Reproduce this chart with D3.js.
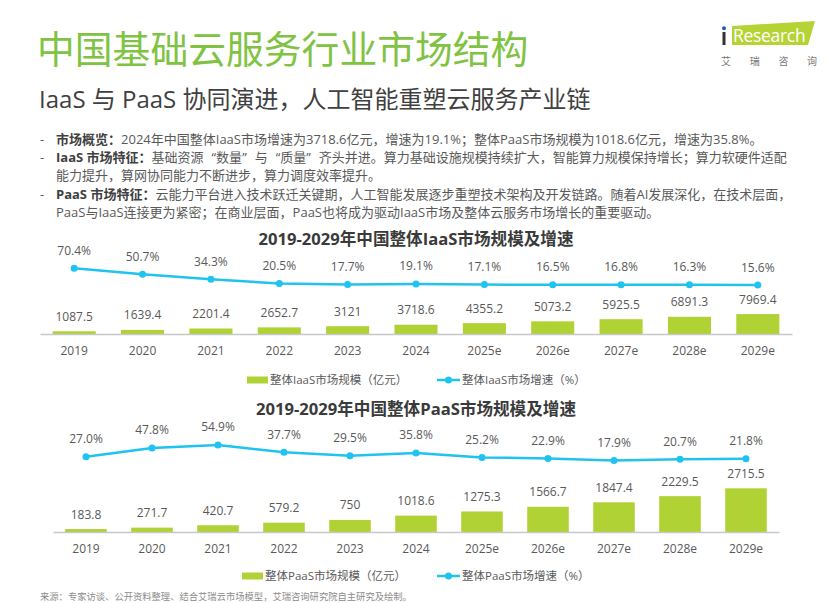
<!DOCTYPE html>
<html>
<head>
<meta charset="utf-8">
<script src="https://cdn.jsdelivr.net/npm/d3@7"></script>
<style>
  body { margin: 0; background: #fff; }
  svg { display: block; }
</style>
</head>
<body>
<svg class="page" width="830" height="603"></svg>
<script>
var years = ["2019", "2020", "2021", "2022", "2023", "2024", "2025e", "2026e", "2027e", "2028e", "2029e"]
var iaasScale = [1087.5, 1639.4, 2201.4, 2652.7, 3121, 3718.6, 4355.2, 5073.2, 5925.5, 6891.3, 7969.4]
var iaasGrowth = [70.4, 50.7, 34.3, 20.5, 17.7, 19.1, 17.1, 16.5, 16.8, 16.3, 15.6]
var paasScale = [183.8, 271.7, 420.7, 579.2, 750, 1018.6, 1275.3, 1566.7, 1847.4, 2229.5, 2715.5]
var paasGrowth = [27.0, 47.8, 54.9, 37.7, 29.5, 35.8, 25.2, 22.9, 17.9, 20.7, 21.8]

var cGreen = "#b1d235"
var cBlue = "#1fc3ef"
var cTitle = "#80c342"
var cText = "#595959"
var cDark = "#404040"
var font = "'Open Sans', 'Noto Sans CJK SC', sans-serif"

var svg = d3.select(".page")

// header
svg.append("text")
	.text("中国基础云服务行业市场结构")
	.attr("x", 37)
	.attr("y", 63)
	.attr("font-family", font)
	.attr("font-size", "37.8px")
	.attr("fill", cTitle)

svg.append("text")
	.text("IaaS 与 PaaS 协同演进，人工智能重塑云服务产业链")
	.attr("x", 39)
	.attr("y", 108)
	.attr("font-family", font)
	.attr("font-size", "24px")
	.attr("fill", cDark)

// logo
svg.append("polygon")
	.attr("points", "732,26 815,21 808,45 732,45")
	.attr("fill", "#b5d334")
svg.append("rect")
	.attr("x", 722.5).attr("y", 32).attr("width", 3).attr("height", 13)
	.attr("fill", "#333")
svg.append("circle")
	.attr("cx", 724).attr("cy", 28.3).attr("r", 2)
	.attr("fill", "#1f5fb4")
svg.append("text")
	.text("Research")
	.attr("x", 733)
	.attr("y", 42)
	.attr("font-family", font)
	.attr("font-size", "17.5px")
	.attr("letter-spacing", "-0.3px")
	.attr("fill", "white")

var logoChars = ["艾", "瑞", "咨", "询"]
svg.selectAll(".logoChar")
	.data(logoChars)
	.enter()
	.append("text")
	.attr("class", "logoChar")
	.text(function(d) {return d;})
	.attr("x", function(d, i) {return 726 + i * 28.7;})
	.attr("y", 65)
	.attr("text-anchor", "middle")
	.attr("font-family", font)
	.attr("font-size", "10px")
	.attr("fill", "#777")

// bullet text
var bullets = [
	{"dash": true,  "bold": "市场概览：", "text": "2024年中国整体IaaS市场增速为3718.6亿元，增速为19.1%；整体PaaS市场规模为1018.6亿元，增速为35.8%。"},
	{"dash": true,  "bold": "IaaS 市场特征：", "text": "基础资源“数量”与“质量”齐头并进。算力基础设施规模持续扩大，智能算力规模保持增长；算力软硬件适配"},
	{"dash": false, "bold": "", "text": "能力提升，算网协同能力不断进步，算力调度效率提升。"},
	{"dash": true,  "bold": "PaaS 市场特征：", "text": "云能力平台进入技术跃迁关键期，人工智能发展逐步重塑技术架构及开发链路。随着AI发展深化，在技术层面，"},
	{"dash": false, "bold": "", "text": "PaaS与IaaS连接更为紧密；在商业层面，PaaS也将成为驱动IaaS市场及整体云服务市场增长的重要驱动。"}
]

bullets.forEach(function(b, i) {
	var y = 143.5 + i * 18.4
	if (b.dash) {
		svg.append("text")
			.text("-")
			.attr("x", 40)
			.attr("y", y)
			.attr("font-family", font)
			.attr("font-size", "13px")
			.attr("fill", cText)
	}
	var t = svg.append("text")
		.attr("x", 56)
		.attr("y", y)
		.attr("font-family", font)
		.attr("font-size", "13px")
		.attr("fill", cText)
	if (b.bold) {
		t.append("tspan").text(b.bold).attr("font-weight", "bold").attr("fill", cDark)
	}
	// curly quotes are set full width, as in the original
	var parts = b.text.split(/([“”])/)
	var gap = 0
	parts.forEach(function(p) {
		if (p === "") return
		var s = t.append("tspan").text(p)
		if (p === "“") {
			s.attr("dx", 8)
		} else if (gap) {
			s.attr("dx", gap)
		}
		gap = (p === "”") ? 8 : 0
	})
})

// combo chart: bars for scale, line for growth
function drawChart(opt) {
	var g = svg.append("g")

	var x = d3.scaleBand()
		.domain(years)
		.range([opt.x0, opt.x1])
		.paddingInner(0.37)
		.paddingOuter(0.185)

	var yBar = d3.scaleLinear()
		.domain([0, opt.barMax])
		.range([opt.axisY, opt.axisY - 100])

	var yLine = d3.scaleLinear()
		.domain([0, 100])
		.range([opt.lineZero, opt.lineZero - opt.lineSpan])

	g.append("text")
		.text(opt.title)
		.attr("x", 416)
		.attr("y", opt.titleY)
		.attr("text-anchor", "middle")
		.attr("font-family", font)
		.attr("font-size", "16.6px")
		.attr("font-weight", "bold")
		.attr("fill", "#3a3a3a")

	g.selectAll(".bar")
		.data(opt.scale)
		.enter()
		.append("rect")
		.attr("class", "bar")
		.attr("x", function(d, i) {return x(years[i]);})
		.attr("y", function(d) {return yBar(d);})
		.attr("width", x.bandwidth())
		.attr("height", function(d) {return yBar(0) - yBar(d);})
		.attr("fill", cGreen)

	g.selectAll(".barLabel")
		.data(opt.scale)
		.enter()
		.append("text")
		.attr("class", "barLabel")
		.text(function(d) {return d;})
		.attr("x", function(d, i) {return x(years[i]) + x.bandwidth() / 2;})
		.attr("y", function(d) {return yBar(d) - 10.5;})
		.attr("text-anchor", "middle")
		.attr("font-family", font)
		.attr("font-size", "12px")
		.attr("fill", cText)

	var axis = g.append("g")
		.attr("transform", "translate(0," + opt.axisY + ")")
		.call(d3.axisBottom(x).tickSize(0).tickSizeOuter(0).tickPadding(12.5))
	axis.select(".domain")
		.attr("stroke", "#c8c8c8")
		.attr("stroke-width", 1.5)
	axis.selectAll("text")
		.attr("font-family", font)
		.attr("font-size", "12px")
		.attr("fill", cText)

	var line = d3.line()
		.x(function(d, i) {return x(years[i]) + x.bandwidth() / 2;})
		.y(function(d) {return yLine(d);})

	g.append("path")
		.datum(opt.growth)
		.attr("d", line)
		.attr("fill", "none")
		.attr("stroke", cBlue)
		.attr("stroke-width", 2.5)

	g.selectAll(".dot")
		.data(opt.growth)
		.enter()
		.append("circle")
		.attr("class", "dot")
		.attr("cx", function(d, i) {return x(years[i]) + x.bandwidth() / 2;})
		.attr("cy", function(d) {return yLine(d);})
		.attr("r", 3.5)
		.attr("fill", cBlue)

	g.selectAll(".lineLabel")
		.data(opt.growth)
		.enter()
		.append("text")
		.attr("class", "lineLabel")
		.text(function(d) {return d.toFixed(1) + "%";})
		.attr("x", function(d, i) {return x(years[i]) + x.bandwidth() / 2;})
		.attr("y", function(d) {return yLine(d) - 13.5;})
		.attr("text-anchor", "middle")
		.attr("font-family", font)
		.attr("font-size", "12px")
		.attr("fill", cText)

	// legend
	g.append("rect")
		.attr("x", opt.legRectX)
		.attr("y", opt.legY - 3.5)
		.attr("width", 21)
		.attr("height", 7)
		.attr("fill", cGreen)
	g.append("text")
		.text(opt.legBar)
		.attr("x", opt.legRectX + 23)
		.attr("y", opt.legY + 4)
		.attr("font-family", font)
		.attr("font-size", "11.5px")
		.attr("fill", cText)
	g.append("line")
		.attr("x1", 437).attr("x2", 460)
		.attr("y1", opt.legY).attr("y2", opt.legY)
		.attr("stroke", cBlue)
		.attr("stroke-width", 2.5)
	g.append("circle")
		.attr("cx", 448.5).attr("cy", opt.legY).attr("r", 3.5)
		.attr("fill", cBlue)
	g.append("text")
		.text(opt.legLine)
		.attr("x", 462)
		.attr("y", opt.legY + 4)
		.attr("font-family", font)
		.attr("font-size", "11.5px")
		.attr("fill", cText)
}

drawChart({
	"title": "2019-2029年中国整体IaaS市场规模及增速",
	"titleY": 245,
	"scale": iaasScale,
	"growth": iaasGrowth,
	"x0": 40, "x1": 792,
	"axisY": 334,
	"barMax": 40000,
	"lineZero": 289.8, "lineSpan": 30.5,
	"legY": 380, "legRectX": 247,
	"legBar": "整体IaaS市场规模（亿元）",
	"legLine": "整体IaaS市场增速（%）"
})

drawChart({
	"title": "2019-2029年中国整体PaaS市场规模及增速",
	"titleY": 415,
	"scale": paasScale,
	"growth": paasGrowth,
	"x0": 53, "x1": 779,
	"axisY": 532,
	"barMax": 6215,
	"lineZero": 468, "lineSpan": 41.9,
	"legY": 576, "legRectX": 242,
	"legBar": "整体PaaS市场规模（亿元）",
	"legLine": "整体PaaS市场增速（%）"
})

// footer
svg.append("text")
	.text("来源：专家访谈、公开资料整理、结合艾瑞云市场模型，艾瑞咨询研究院自主研究及绘制。")
	.attr("x", 40)
	.attr("y", 600)
	.attr("font-family", font)
	.attr("font-size", "9.3px")
	.attr("fill", "#8c8c8c")
</script>
</body>
</html>
